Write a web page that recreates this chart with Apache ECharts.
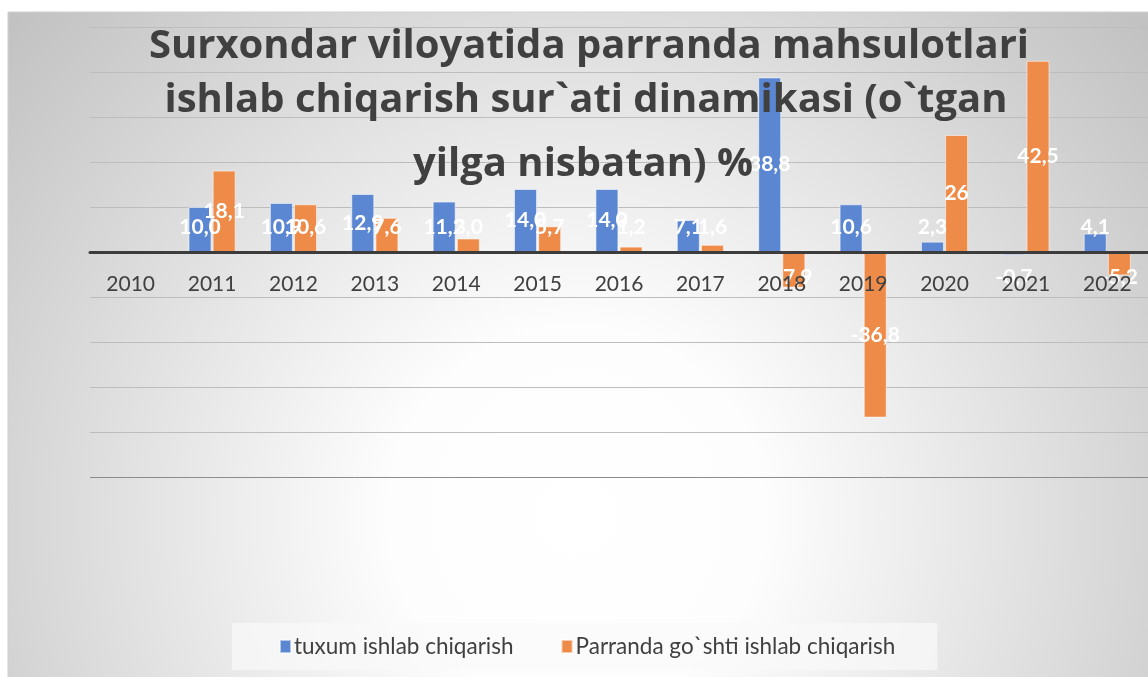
<!DOCTYPE html>
<html>
<head>
<meta charset="utf-8">
<script src="https://cdn.jsdelivr.net/npm/echarts@6/dist/echarts.min.js"></script>
<style>
  html, body { margin: 0; padding: 0; background: #fff; }
  #chart { width: 1148px; height: 677px; }
</style>
</head>
<body>
<div id="chart"></div>
<script>
// Ma'lumotlar (o`tgan yilga nisbatan, %)
const years = ['2010', '2011', '2012', '2013', '2014', '2015', '2016', '2017', '2018', '2019', '2020', '2021', '2022'];
const tuxum = ['-', '10.0', '10.9', '12.9', '11.2', '14.0', '14.0', '7.1', '38.8', '10.6', '2.3', '-0.7', '4.1'];
const gosht = ['-', '18.1', '10.6', '7.6', '3.0', '5.7', '1.2', '1.6', '-7.9', '-36.8', '26', '42.5', '-5.2'];
const seriesNames = ['tuxum ishlab chiqarish', 'Parranda go`shti ishlab chiqarish'];
const titleLines = [
  'Surxondar viloyatida parranda mahsulotlari',
  'ishlab chiqarish sur`ati dinamikasi (o`tgan',
  'yilga nisbatan) %'
];

const FONT = 'Lato';
const TITLE_FONT = 'Open Sans';
const textColor = '#404040';
const gridH = 450;
const pxPerUnit = gridH / 100; // grid height / (max - min)

// kichik ustunlarda yorliq o'qdan biroz uzoqroq turadi
const withLabel = (arr) => arr.map(v => {
  if (v === '-') return v;
  const n = parseFloat(v);
  const half = Math.abs(n) * pxPerUnit / 2;
  const push = half < 25 ? 25 - half : 0;
  return { value: v, label: { offset: [0, n >= 0 ? -push : push] } };
});

const chart = echarts.init(document.getElementById('chart'));

// grid splitlines: the bottom one (-50) is darker
const splitColors = ['#8c8c8c'].concat(new Array(10).fill('#bdbdbd'));

chart.setOption({
  animation: false,
  textStyle: { fontFamily: FONT },
  graphic: [{
    type: 'rect',
    z: -10,
    silent: true,
    shape: { x: 8, y: 12, width: 1160, height: 680 },
    style: {
      fill: {
        type: 'radial', x: 0.49, y: 0.74, r: 1.1,
        colorStops: [
          { offset: 0, color: '#ffffff' },
          { offset: 0.25, color: '#fdfdfd' },
          { offset: 1, color: '#c2c2c2' }
        ]
      },
      stroke: '#cfcfcf',
      lineWidth: 1
    }
  }],
  title: [
    { text: titleLines[0], left: 589, top: 25, textAlign: 'center' },
    { text: titleLines[1], left: 586, top: 79, textAlign: 'center' },
    { text: titleLines[2], left: 583, top: 143, textAlign: 'center' }
  ].map(t => Object.assign(t, {
    padding: 0,
    textStyle: { fontFamily: TITLE_FONT, fontWeight: 'bold', fontSize: 40, lineHeight: 44, color: textColor }
  })),
  legend: {
    left: 232,
    top: 623,
    padding: [12, 42, 12, 47],
    itemGap: 47,
    itemWidth: 11,
    itemHeight: 13,
    icon: 'rect',
    backgroundColor: 'rgba(250,250,250,0.7)',
    textStyle: { fontFamily: FONT, fontSize: 22.5, color: textColor, padding: [0, 0, 0, -2] },
    data: seriesNames
  },
  grid: { left: 90, top: 27, width: 1072, height: gridH },
  xAxis: {
    type: 'category',
    data: years,
    z: 5,
    // o'q chizig'i va yorliqlar nol darajasida
    offset: -gridH / 2,
    axisLine: { onZero: false, lineStyle: { color: '#3c3c3c', width: 3 } },
    axisTick: { show: false },
    axisLabel: { fontFamily: FONT, fontSize: 21, color: textColor, margin: 22 }
  },
  yAxis: {
    type: 'value',
    min: -50,
    max: 50,
    interval: 10,
    axisLine: { show: false },
    axisTick: { show: false },
    axisLabel: { show: false },
    splitLine: { lineStyle: { color: splitColors, width: 1 } }
  },
  series: [
    {
      name: seriesNames[0],
      type: 'bar',
      barWidth: 23,
      barGap: '5%',
      data: withLabel(tuxum),
      itemStyle: { color: '#5b87d2', borderColor: 'rgba(255,255,255,0.55)', borderWidth: 1 }
    },
    {
      name: seriesNames[1],
      type: 'bar',
      barWidth: 23,
      data: withLabel(gosht),
      itemStyle: { color: '#ef8b48', borderColor: 'rgba(255,255,255,0.55)', borderWidth: 1 }
    }
  ].map(s => Object.assign(s, {
    label: {
      show: true,
      position: 'inside',
      fontFamily: FONT,
      fontWeight: 'bold',
      fontSize: 21,
      color: '#ffffff',
      formatter: p => String(p.value).replace('.', ',')
    }
  }))
});
</script>
</body>
</html>
